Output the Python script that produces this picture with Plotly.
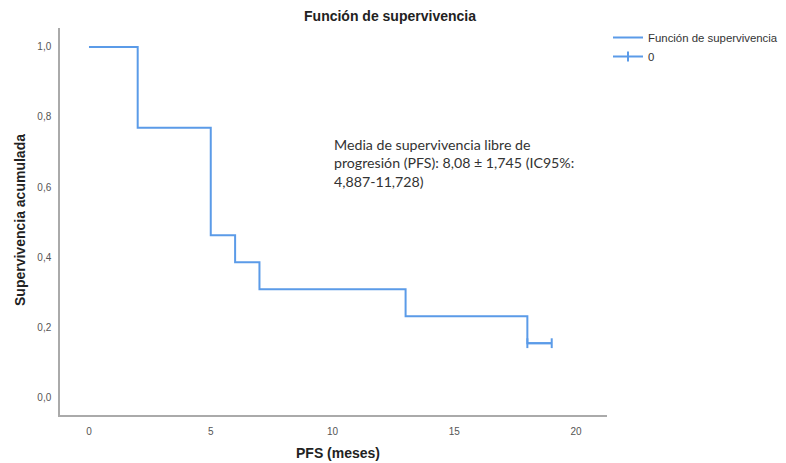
import plotly.graph_objects as go

# Data
times = [0, 2, 5, 6, 7, 13, 18, 19]
surv = [1.0, 0.769, 0.462, 0.385, 0.308, 0.231, 0.154, 0.154]
censor_times = [18, 19]
censor_surv = [0.154, 0.154]
x_ticks = [0, 5, 10, 15, 20]
y_ticks = [0.0, 0.2, 0.4, 0.6, 0.8, 1.0]

blue = "#5B9BE8"

# page body has an 8px margin; figure is sized/placed to compensate
OFF = 8
W, H = 786 - 2 * OFF, 463 - OFF
L, T = 60 - OFF, 28 - OFF
R = W - (607 - OFF)
B = H - (415 - OFF)
PW = W - L - R
PH = H - T - B


def px(xp):
    return (xp - OFF - L) / PW


def py(yp):
    return (H - B - (yp - OFF)) / PH


fig = go.Figure()
fig.add_trace(go.Scatter(
    x=times, y=surv, mode="lines", line=dict(color=blue, width=2, shape="hv"),
    name="Función de supervivencia", showlegend=True))
fig.add_trace(go.Scatter(
    x=censor_times, y=censor_surv, mode="lines+markers",
    line=dict(color=blue, width=2),
    marker=dict(symbol="line-ns", size=7, line=dict(color=blue, width=2)),
    name="0", showlegend=True))

fig.update_layout(
    width=W, height=H,
    margin=dict(l=L, r=R, t=T, b=B, autoexpand=False),
    plot_bgcolor="white", paper_bgcolor="white",
    separators=",.",
    font=dict(family="Liberation Sans, Arial", color="#333333"),
    title=dict(text="<b>Función de supervivencia</b>", x=(390 - OFF) / W, xanchor="center",
               y=1 - (16 - OFF) / H, yanchor="middle", font=dict(size=14, color="#222222")),
    legend=dict(x=px(608), y=py(23), xanchor="left", yanchor="top",
                font=dict(size=11.4, color="#333333"), tracegroupgap=0,
                itemwidth=30, bgcolor="rgba(0,0,0,0)"),
    xaxis=dict(range=[-1.19, 21.27], tickvals=x_ticks, ticks="", showgrid=False,
               zeroline=False, showline=True, linecolor="#AAAAAA", linewidth=1.5,
               tickfont=dict(size=10, color="#555555"), ticklabelstandoff=6),
    yaxis=dict(range=[-0.051, 1.054], tickvals=y_ticks, tickformat=".1f", ticks="",
               showgrid=False, zeroline=False, showline=True, linecolor="#AAAAAA",
               linewidth=1.5, tickfont=dict(size=10, color="#555555"), ticklabelstandoff=5),
    annotations=[
        dict(text="<b>PFS (meses)</b>", xref="paper", yref="paper",
             x=px(338), y=py(453), xanchor="center", yanchor="middle",
             showarrow=False, font=dict(size=14, color="#222222")),
        dict(text="<b>Supervivencia acumulada</b>", xref="paper", yref="paper",
             x=px(20), y=py(220), xanchor="center", yanchor="middle",
             textangle=-90, showarrow=False, font=dict(size=14, color="#222222")),
        dict(text="Media de supervivencia libre de<br>progresión (PFS): 8,08 ± 1,745 (IC95%:<br>4,887-11,728)",
             xref="paper", yref="paper", x=px(332), y=py(134),
             xanchor="left", yanchor="top", align="left", showarrow=False,
             font=dict(size=14.2, color="#333333", family="Lato, Open Sans")),
    ],
)

fig.write_html("out.html")
